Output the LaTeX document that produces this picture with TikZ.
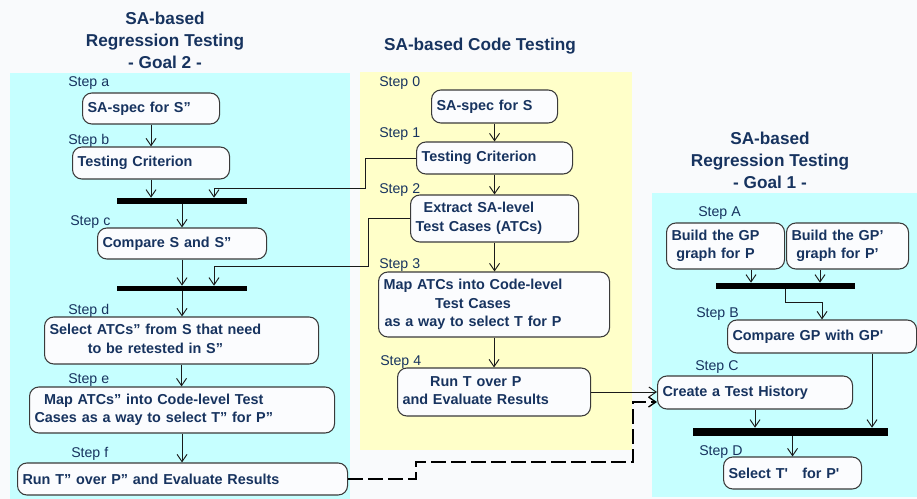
\documentclass[tikz,border=0pt]{standalone}
\usepackage{fontspec}
\setmainfont{Liberation Sans}
\usetikzlibrary{arrows.meta}

\definecolor{paper}{HTML}{F9FAFC}
\definecolor{cyanpanel}{HTML}{C6FFFF}
\definecolor{yellowpanel}{HTML}{FFFFC9}
\definecolor{boxfill}{HTML}{FBFCFE}
\definecolor{boxline}{HTML}{3A3A3A}
\definecolor{ink}{HTML}{17335F}
\definecolor{wire}{HTML}{1A1A1A}

\newcommand{\boxfont}{\bfseries\fontsize{10.8}{13.9}\selectfont}
\newcommand{\stepfont}{\fontsize{10.6}{12}\selectfont}
\newcommand{\headfont}{\bfseries\fontsize{12.9}{16.5}\selectfont}
\newcommand{\lines}[1]{\begin{tabular}{@{}c@{}}#1\end{tabular}}
\newcommand{\sq}{\textquotesingle}

\tikzset{
  procbox/.style n args={4}{draw=boxline, fill=boxfill, line width=0.8pt, rounded corners=7pt,
     font=\boxfont, text=ink, align=left, inner xsep=3.75pt, inner ysep=0pt, anchor=west,
     at={(#1,{(#2+#4)/2})},
     minimum width={(#3-#1)*0.75pt}, minimum height={(#4-#2)*0.75pt},
     text width={(#3-#1)*0.75pt-7.5pt}},
  syncbar/.style n args={4}{fill=black, draw=none, inner sep=0pt, anchor=center,
     at={({(#1+#3)/2},{(#2+#4)/2})},
     minimum width={(#3-#1)*0.75pt}, minimum height={(#4-#2)*0.75pt}},
  steplabel/.style={font=\stepfont, text=ink, anchor=base west, inner sep=0pt},
  heading/.style={font=\headfont, text=ink, align=center},
  flow/.style={draw=wire, line width=0.7pt,
     -{Straight Barb[length=5.5pt,width=7.5pt,line width=0.7pt]}},
  feedback/.style={draw=black, line width=1.2pt, dash pattern=on 11pt off 4pt,
     -{Straight Barb[length=5.5pt,width=7.5pt,line width=1pt]}},
}

\begin{document}
\begin{tikzpicture}[x=0.75pt,y=-0.75pt]
\useasboundingbox (0,0) rectangle (917,499);
\fill[paper] (0,0) rectangle (917,499);

% panels
\fill[cyanpanel] (10,73) rectangle (350,499);
\fill[yellowpanel] (360,72) rectangle (632,450);
\fill[cyanpanel] (652,193) rectangle (917,497);

% headings
\node[heading] (h2) at (165,40) {SA-based\\Regression Testing\\- Goal 2 -};
\node[heading] (h0) at (480,46) {SA-based Code Testing};
\node[heading] (h1) at (770,160.5) {SA-based\\Regression Testing\\- Goal 1 -};

% regression testing, goal 2
\node[steplabel] (la) at (68,87) {Step a};
\node[procbox={82}{93}{219}{124}] (sa2) {SA-spec for S''};
\node[steplabel] (lb) at (68,145) {Step b};
\node[procbox={72}{147}{229}{179}] (tc2) {Testing Criterion};
\node[syncbar={117}{198}{247}{204}] (bar1) {};
\node[steplabel] (lc) at (70,225) {Step c};
\node[procbox={97}{228}{266}{259}] (cmp2) {Compare S and S''};
\node[syncbar={117}{286}{247}{291}] (bar2) {};
\node[steplabel] (ld) at (68,314) {Step d};
\node[procbox={44}{317}{318}{364}] (sel2) {\lines{Select ATCs'' from S that need\\to be retested in S''}};
\node[steplabel] (le) at (68,383) {Step e};
\node[procbox={29}{387}{334}{433}] (map2) {\lines{Map ATCs'' into Code-level Test\\Cases as a way to select T'' for P''}};
\node[steplabel] (lf) at (71,457) {Step f};
\node[procbox={17}{463}{347}{495}] (run2) {Run T'' over P'' and Evaluate Results};

% code testing
\node[steplabel] (l0) at (379,87) {Step 0};
\node[procbox={431}{90}{557}{123}] (sa0) {SA-spec for S};
\node[steplabel] (l1) at (379,138) {Step 1};
\node[procbox={416}{142}{572}{174}] (tc0) {Testing Criterion};
\node[steplabel] (l2) at (379,194) {Step 2};
\node[procbox={410}{195}{578}{242}] (ex0) {\lines{Extract SA-level\\Test Cases (ATCs)}};
\node[steplabel] (l3) at (379,268) {Step 3};
\node[procbox={378}{272}{609}{337}] (map0) {\lines{Map ATCs into Code-level\\Test Cases\\as a way to select T for P}};
\node[steplabel] (l4) at (380,365) {Step 4};
\node[procbox={397}{368}{590}{416}] (run0) {\lines{Run T over P\\and Evaluate Results}};

% regression testing, goal 1
\node[steplabel] (lA) at (698,216) {Step A};
\node[procbox={666}{223}{784}{269}] (gp) {\lines{Build the GP\\graph for P}};
\node[procbox={786}{223}{908}{269}] (gpp) {\lines{Build the GP'\\graph for P'}};
\node[syncbar={716}{283}{855}{289}] (barA) {};
\node[steplabel] (lB) at (696,317) {Step B};
\node[procbox={727}{320}{916}{353}] (cmpR) {Compare GP with GP\sq};
\node[steplabel] (lC) at (695,370) {Step C};
\node[procbox={657}{376}{852}{409}] (hist) {Create a Test History};
\node[syncbar={693}{428}{888}{436}] (barD) {};
\node[steplabel] (lD) at (699,455) {Step D};
\node[procbox={723}{457}{861}{489}] (selR) {Select T\sq\ \ \ for P\sq};

% routing points
\coordinate (k1) at (365,188);
\coordinate (k2) at (214,188);
\coordinate (k3) at (368,266);
\coordinate (k4) at (214,266);
\coordinate (d1) at (416,479);
\coordinate (d2) at (416,462);
\coordinate (d3) at (633,462);
\coordinate (d4) at (633,402);
\coordinate (xga) at (751,0);
\coordinate (xgb) at (820,0);
\coordinate (xcr) at (872,0);

% goal 2 flow
\draw[flow] (sa2.south) -- (tc2.north);
\draw[flow] (tc2.south) -- (tc2.south |- bar1.north);
\draw[flow] (tc0.west) -| (k1) -- (k2) -- (k2 |- bar1.north);
\draw[flow] (bar1.south) -- (bar1.south |- cmp2.north);
\draw[flow] (cmp2.south) -- (cmp2.south |- bar2.north);
\draw[flow] (ex0.west) -| (k3) -- (k4) -- (k4 |- bar2.north);
\draw[flow] (bar2.south) -- (bar2.south |- sel2.north);
\draw[flow] (sel2.south) -- (sel2.south |- map2.north);
\draw[flow] (map2.south) -- (map2.south |- run2.north);
\draw[feedback] (run2.east) -- (d1) -- (d2) -- (d3) -- (d4) -- (d4 -| hist.west);

% code testing flow
\draw[flow] (sa0.south) -- (tc0.north);
\draw[flow] (tc0.south) -- (ex0.north);
\draw[flow] (ex0.south) -- (ex0.south |- map0.north);
\draw[flow] (map0.south) -- (map0.south |- run0.north);
\draw[flow] (run0.east) -- (run0.east -| hist.west);

% goal 1 flow
\draw[flow] (gp.south -| xga) -- (xga |- barA.north);
\draw[flow] (gpp.south -| xgb) -- (xgb |- barA.north);
\draw[flow] (barA.south) -- ++(0,13) -| (cmpR.north);
\draw[flow] (cmpR.south -| xcr) -- (xcr |- barD.north);
\draw[flow] (hist.south) -- (hist.south |- barD.north);
\draw[flow] (selR.north |- barD.south) -- (selR.north);
\end{tikzpicture}
\end{document}
